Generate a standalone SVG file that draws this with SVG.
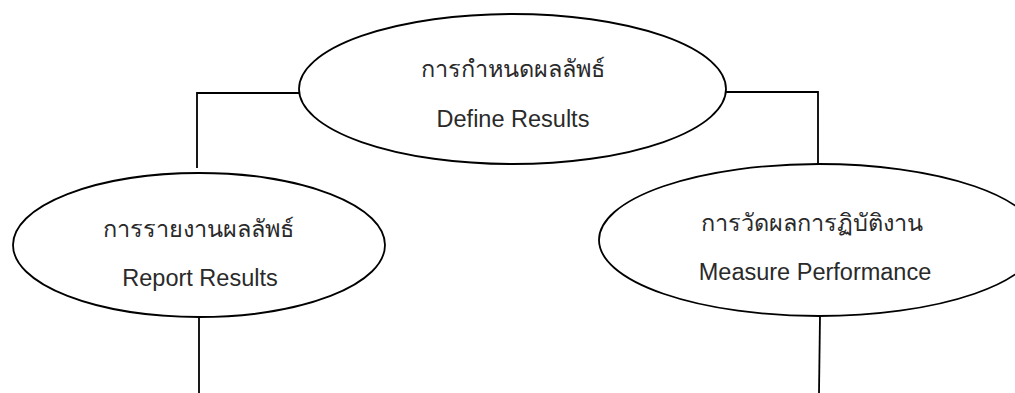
<svg xmlns="http://www.w3.org/2000/svg" width="1015" height="393" viewBox="0 0 1015 393">
<style>
.node ellipse{fill:#fff;stroke:#000;stroke-width:1.8}
.conn{fill:none;stroke:#000;stroke-width:1.8}
.t{font-family:"Liberation Sans","Noto Sans","DejaVu Sans",sans-serif;font-size:23.5px;fill:#2a2a2a;text-anchor:middle}
</style>
<rect width="1015" height="393" fill="#fff"/>
<g id="connectors">
<polyline class="conn" points="299,93 197,93 197,168"/>
<polyline class="conn" points="726,92 818,92 818,164"/>
<line class="conn" x1="199" y1="317" x2="199" y2="393"/>
<line class="conn" x1="820" y1="316" x2="819" y2="393"/>
</g>
<g id="define" class="node">
<ellipse cx="512.5" cy="89" rx="213.5" ry="75"/>
<text class="t" x="513" y="77">การกำหนดผลลัพธ์</text>
<text class="t" x="513" y="127">Define Results</text>
</g>
<g id="report" class="node">
<ellipse cx="199" cy="245" rx="186" ry="72"/>
<text class="t" x="198" y="237">การรายงานผลลัพธ์</text>
<text class="t" x="200" y="286">Report Results</text>
</g>
<g id="measure" class="node">
<ellipse cx="819" cy="240" rx="220" ry="76"/>
<text class="t" x="812" y="231">การวัดผลการฏิบัติงาน</text>
<text class="t" x="815" y="280">Measure Performance</text>
</g>
</svg>
